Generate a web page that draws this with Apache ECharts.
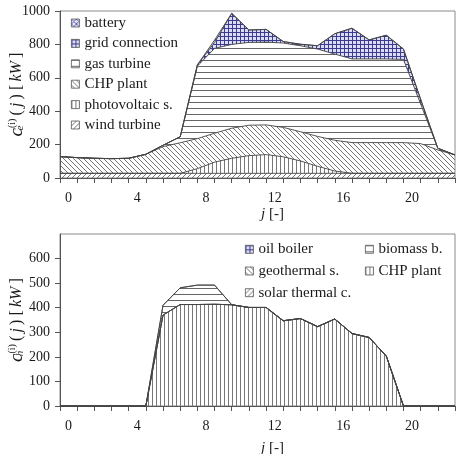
<!DOCTYPE html>
<html>
<head>
<meta charset="utf-8">
<script src="https://cdn.jsdelivr.net/npm/echarts@6/dist/echarts.min.js"></script>
<style>
  html, body { margin: 0; padding: 0; background: #ffffff; }
  #chart { width: 462px; height: 454px; }
</style>
</head>
<body>
<div id="chart"></div>
<script>
// hour j (data points sit on the tick marks), labels sit in the bands
const hours = ["0", "1", "2", "3", "4", "5", "6", "7", "8", "9", "10", "11",
  "12", "13", "14", "15", "16", "17", "18", "19", "20", "21", "22", "23"];
const bandLabels = ["0", "1", "2", "3", "4", "5", "6", "7", "8", "9", "10", "11",
  "12", "13", "14", "15", "16", "17", "18", "19", "20", "21", "22"];

// electric power [kW], stacked bottom -> top
const windTurbine = [28, 28, 28, 28, 28, 28, 28, 28, 28, 28, 28, 28, 28, 28, 28, 28, 28, 28, 28, 28, 28, 28, 28, 28];
const photovoltaic = [0, 0, 0, 0, 0, 0, 0, 0, 28, 67, 90, 106, 112, 99, 74, 42, 14, 0, 0, 0, 0, 0, 0, 0];
const chpElectric = [100, 94, 90, 88, 90, 114, 160, 183, 180, 173, 180, 182, 178, 176, 175, 179, 184, 184, 184, 184, 184, 178, 140, 110];
const gasTurbine = [0, 0, 0, 0, 0, 0, 8, 36, 434, 508, 502, 496, 496, 505, 515, 523, 516, 501, 501, 501, 498, 237, 10, 0];
const gridConnection = [0, 0, 0, 0, 0, 0, 0, 0, 8, 35, 186, 74, 76, 9, 9, 20, 122, 184, 114, 142, 62, 28, 0, 0];
const battery = [0, 0, 0, 0, 0, 0, 0, 0, 0, 15, 0, 0, 0, 0, 0, 0, 0, 0, 0, 0, 0, 0, 0, 0];

// heat power [kW], stacked bottom -> top
const chpHeat = [0, 0, 0, 0, 0, 0, 370, 413, 413, 414, 412, 401, 401, 347, 356, 323, 354, 295, 279, 203, 0, 0, 0, 0];
const solarThermal = [0, 0, 0, 0, 0, 0, 0, 0, 0, 0, 0, 0, 0, 0, 0, 0, 0, 0, 0, 0, 0, 0, 0, 0];
const geothermal = [0, 0, 0, 0, 0, 0, 0, 0, 0, 0, 0, 0, 0, 0, 0, 0, 0, 0, 0, 0, 0, 0, 0, 0];
const biomassBoiler = [0, 0, 0, 0, 0, 0, 40, 68, 79, 78, 0, 0, 0, 0, 0, 0, 0, 0, 0, 0, 0, 0, 0, 0];
const oilBoiler = [0, 0, 0, 0, 0, 0, 0, 0, 0, 0, 0, 0, 0, 0, 0, 0, 0, 0, 0, 0, 0, 0, 0, 0];

const FONT = '"Liberation Serif", "Times New Roman", serif';
const INK = "#1a1a1a";
const AXIS = "#555555";

// hatch fills drawn on small canvases
function hatch(kind, size, ink, paper) {
  const c = document.createElement("canvas");
  c.width = size;
  c.height = size;
  const ctx = c.getContext("2d");
  if (paper) {
    ctx.fillStyle = paper;
    ctx.fillRect(0, 0, size, size);
  }
  ctx.strokeStyle = ink;
  ctx.fillStyle = ink;
  ctx.lineWidth = 0.9;
  const s = size;
  if (kind === "fwd" || kind === "cross") {
    ctx.beginPath();
    for (let k = 0; k <= 2; k++) {
      ctx.moveTo(k * s + 1, -1);
      ctx.lineTo(-1, k * s + 1);
    }
    ctx.stroke();
  }
  if (kind === "back" || kind === "cross") {
    ctx.beginPath();
    for (let k = -1; k <= 1; k++) {
      ctx.moveTo(k * s - 1, -1);
      ctx.lineTo(k * s + s + 1, s + 1);
    }
    ctx.stroke();
  }
  if (kind === "vert" || kind === "grid") ctx.fillRect(0, 0, 1, s);
  if (kind === "horiz" || kind === "grid") ctx.fillRect(0, 0, s, 1);
  return { image: c, repeat: "repeat" };
}

const patFwd = hatch("fwd", 5, "#666666");
const patBack = hatch("back", 5, "#666666");
const patVert = hatch("vert", 4, "#777777");
const patHoriz = hatch("horiz", 6, "#666666");
const patGrid = hatch("grid", 4, "#3c3c94", "#dcdcf2");
const patCross = hatch("cross", 5, "#5050a8", "#e4e4f6");

function area(name, data, pat, stack, xi, yi) {
  return {
    name: name,
    type: "line",
    stack: stack,
    xAxisIndex: xi,
    yAxisIndex: yi,
    data: data,
    showSymbol: false,
    symbol: "none",
    silent: true,
    itemStyle: { color: pat },
    lineStyle: { color: "#444444", width: 0.9 },
    areaStyle: { color: pat, opacity: 1 },
    emphasis: { disabled: true }
  };
}

function legendItem(name, pat) {
  return { name: name, itemStyle: { color: pat, borderColor: "#555555", borderWidth: 0.8 } };
}

const legendText = { fontFamily: FONT, fontSize: 15, color: INK, lineHeight: 15 };

const yNameRich = {
  c: { fontFamily: FONT, fontStyle: "italic", fontSize: 19, color: INK },
  sb: { fontFamily: FONT, fontStyle: "italic", fontSize: 11, color: INK, verticalAlign: "bottom", width: 0 },
  sp: { fontFamily: FONT, fontSize: 10, color: INK, verticalAlign: "top", padding: [0, 3, 0, 0] },
  n: { fontFamily: FONT, fontSize: 16, color: INK },
  i: { fontFamily: FONT, fontStyle: "italic", fontSize: 16, color: INK }
};
const xNameRich = {
  i: { fontFamily: FONT, fontStyle: "italic", fontSize: 15, color: INK },
  n: { fontFamily: FONT, fontSize: 15, color: INK }
};

function dataAxis(gi) {
  return {
    type: "category",
    gridIndex: gi,
    position: "bottom",
    boundaryGap: false,
    data: hours,
    axisLine: { lineStyle: { color: AXIS, width: 1 } },
    axisTick: { show: true, interval: 0, length: 5, lineStyle: { color: AXIS } },
    axisLabel: { show: false },
    splitLine: { show: false }
  };
}

function labelAxis(gi, gap) {
  return {
    type: "category",
    gridIndex: gi,
    position: "bottom",
    boundaryGap: true,
    data: bandLabels,
    axisLine: { show: false },
    axisTick: { show: false },
    axisLabel: { interval: 3, margin: 13, fontFamily: FONT, fontSize: 14, color: INK },
    splitLine: { show: false },
    name: "{i|j}{n| [-]}",
    nameLocation: "middle",
    nameGap: gap,
    nameMoveOverlap: false,
    nameTextStyle: { rich: xNameRich, padding: [0, 0, 0, 30] }
  };
}

function valueAxis(gi, max, interval, nameStr) {
  return {
    type: "value",
    gridIndex: gi,
    min: 0,
    max: max,
    interval: interval,
    axisLine: { show: true, lineStyle: { color: AXIS, width: 1 } },
    axisTick: { show: true, length: 5, lineStyle: { color: AXIS } },
    axisLabel: {
      margin: 10, fontFamily: FONT, fontSize: 14, color: INK,
      showMaxLabel: max !== 700,
      formatter: function (v) { return String(v); }
    },
    splitLine: { show: false },
    name: nameStr,
    nameLocation: "middle",
    nameRotate: 90,
    nameGap: 34,
    nameMoveOverlap: false,
    nameTextStyle: { rich: yNameRich }
  };
}

const chart = echarts.init(document.getElementById("chart"), null, { renderer: "canvas" });

const option = {
  animation: false,
  backgroundColor: "#ffffff",
  grid: [
    { left: 60, right: 7, top: 11, height: 167, show: true, borderColor: "#8a8a8a", borderWidth: 1, containLabel: false, outerBoundsMode: "none" },
    { left: 60, right: 7, top: 234, height: 172, show: true, borderColor: "#8a8a8a", borderWidth: 1, containLabel: false, outerBoundsMode: "none" }
  ],
  xAxis: [dataAxis(0), labelAxis(0, 29), dataAxis(1), labelAxis(1, 35)],
  yAxis: [
    valueAxis(0, 1000, 200, "{c|c}{sb|e}{sp|(i)}{n|(\u2009}{i|j}{n|\u2009) [\u2009}{i|kW}{n|\u2009]}"),
    valueAxis(1, 700, 100, "{c|c}{sb|h}{sp|(i)}{n|(\u2009}{i|j}{n|\u2009) [\u2009}{i|kW}{n|\u2009]}")
  ],
  legend: [
    {
      orient: "vertical",
      left: 71,
      top: 15.5,
      padding: 0,
      icon: "rect",
      itemWidth: 8,
      itemHeight: 8,
      itemGap: 5.4,
      selectedMode: false,
      textStyle: legendText,
      data: [
        legendItem("battery", patCross),
        legendItem("grid connection", patGrid),
        legendItem("gas turbine", patHoriz),
        legendItem("CHP plant", patBack),
        legendItem("photovoltaic s.", patVert),
        legendItem("wind turbine", patFwd)
      ]
    },
    {
      orient: "vertical",
      left: 245,
      top: 241.8,
      padding: 0,
      icon: "rect",
      itemWidth: 8,
      itemHeight: 8,
      itemGap: 6.7,
      selectedMode: false,
      textStyle: legendText,
      data: [
        legendItem("oil boiler", patGrid),
        legendItem("geothermal s.", patBack),
        legendItem("solar thermal c.", patFwd)
      ]
    },
    {
      orient: "vertical",
      left: 365,
      top: 241.8,
      padding: 0,
      icon: "rect",
      itemWidth: 8,
      itemHeight: 8,
      itemGap: 6.7,
      selectedMode: false,
      textStyle: legendText,
      data: [
        legendItem("biomass b.", patHoriz),
        { name: "CHP plant ", itemStyle: { color: patVert, borderColor: "#555555", borderWidth: 0.8 } }
      ]
    }
  ],
  series: [
    area("wind turbine", windTurbine, patFwd, "el", 0, 0),
    area("photovoltaic s.", photovoltaic, patVert, "el", 0, 0),
    area("CHP plant", chpElectric, patBack, "el", 0, 0),
    area("gas turbine", gasTurbine, patHoriz, "el", 0, 0),
    area("grid connection", gridConnection, patGrid, "el", 0, 0),
    area("battery", battery, patCross, "el", 0, 0),
    area("CHP plant ", chpHeat, patVert, "th", 2, 1),
    area("solar thermal c.", solarThermal, patFwd, "th", 2, 1),
    area("geothermal s.", geothermal, patBack, "th", 2, 1),
    area("biomass b.", biomassBoiler, patHoriz, "th", 2, 1),
    area("oil boiler", oilBoiler, patGrid, "th", 2, 1)
  ]
};

chart.setOption(option);
</script>
</body>
</html>
